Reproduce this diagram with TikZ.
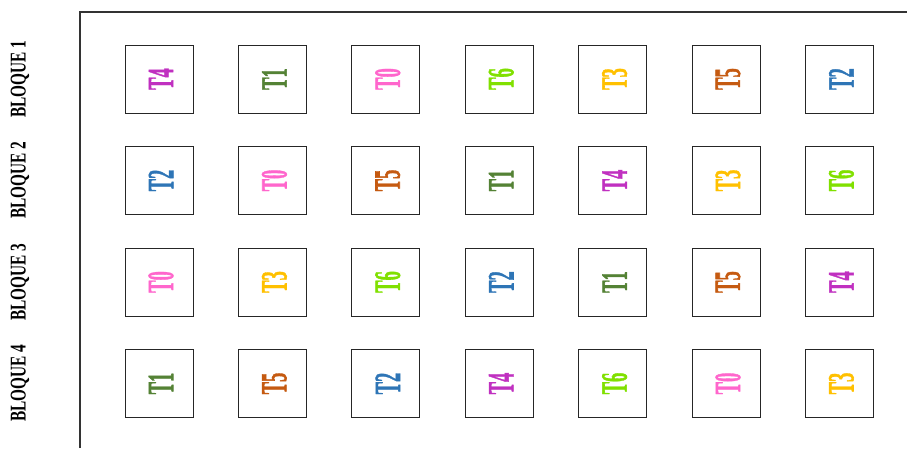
\documentclass[tikz,border=0pt]{standalone}
\usepackage{fontspec}
\setmainfont{Liberation Serif}
\newfontfamily\letrat[FakeBold=1.6]{Liberation Serif Bold}
\usepackage{tikz}
\definecolor{t0}{HTML}{FF66CC}
\definecolor{t1}{HTML}{548235}
\definecolor{t2}{HTML}{2E75B6}
\definecolor{t3}{HTML}{FFC000}
\definecolor{t4}{HTML}{C030C0}
\definecolor{t5}{HTML}{C55A11}
\definecolor{t6}{HTML}{80E000}

\begin{document}
\begin{tikzpicture}[x=1pt, y=-1pt,
	parcela/.style={draw=black!85, line width=0.9pt, minimum size=68pt, inner sep=0pt},
	texto/.style={inner sep=0pt, rotate=90, font=\fontsize{37}{37}\letrat},
	bloque/.style={inner sep=0pt, rotate=90, font=\fontsize{22.5}{22.5}\selectfont\bfseries}]
	\useasboundingbox (0,0) rectangle (907,448);
	\draw[line width=1.1pt, black!80] (80,448) -- (80,12) -- (907,12);
	\foreach \r/\fila in {1/{4,1,0,6,3,5,2}, 2/{2,0,5,1,4,3,6}, 3/{0,3,6,2,1,5,4}, 4/{1,5,2,4,6,0,3}} {
		\node[bloque] (b\r) at (20,{79+101.5*(\r-1)}) {\scalebox{0.68}[1]{BLOQUE \r}};
		\foreach \t [count=\c] in \fila {
			\node[parcela] (p\r-\c) at ({159+113.4*(\c-1)},{79+101.5*(\r-1)}) {};
			\node[texto, text=t\t] (l\r-\c) at ([xshift=2pt]p\r-\c.center) {\scalebox{0.5}[1]{T\t}};
		}
	}
\end{tikzpicture}
\end{document}
